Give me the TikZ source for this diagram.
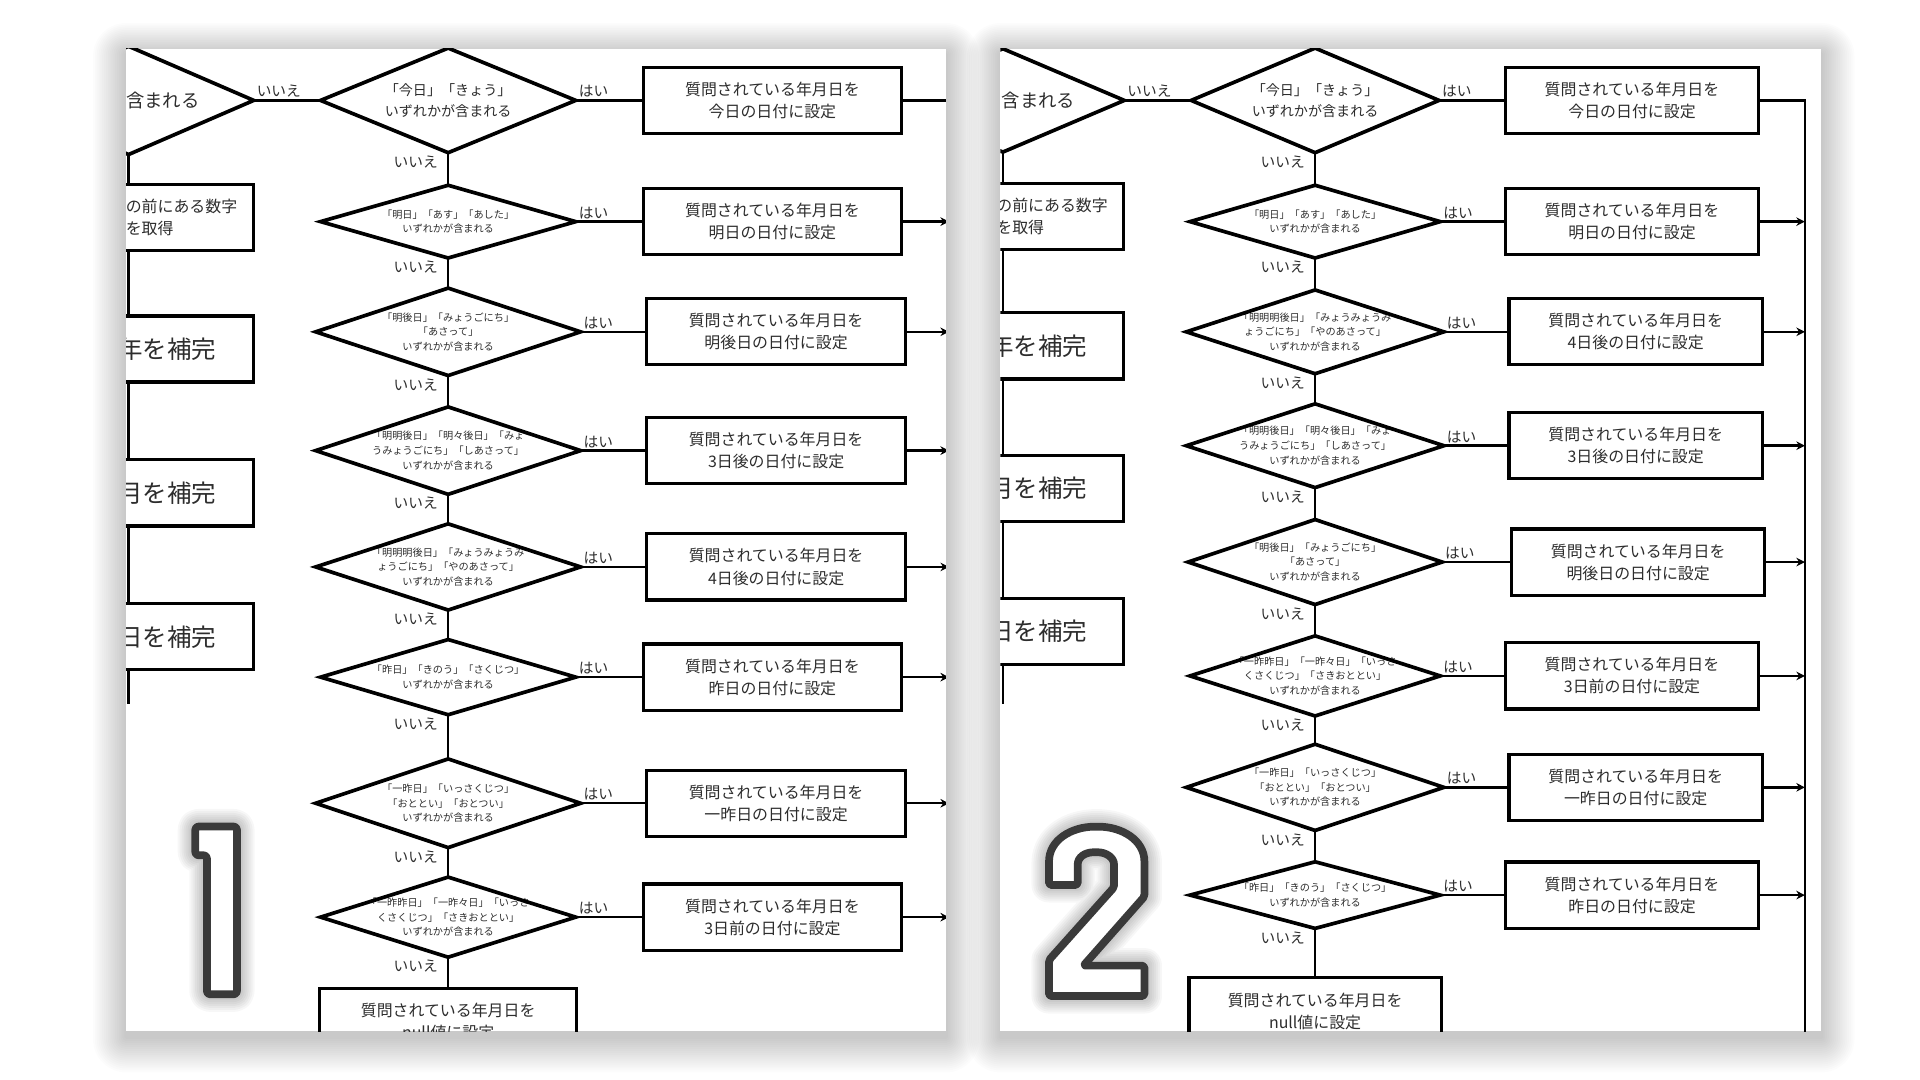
\documentclass[tikz,border=0pt]{standalone}
\usepackage{fontspec}
\setmainfont{Noto Sans CJK JP}
\usetikzlibrary{arrows.meta,positioning}
\definecolor{ink}{RGB}{45,45,45}
\definecolor{numgray}{RGB}{58,58,58}

\tikzset{
  cond/.style={inner sep=0pt, align=center, text=ink},
  dia/.style={line width=3pt, line join=miter},
  act/.style={draw, line width=2.6pt, minimum height=54pt, align=center, text=ink,
    font=\fontsize{13}{18}\selectfont},
  side/.style={draw, line width=2.6pt, minimum width=116pt, minimum height=54pt,
    text width=104pt, align=left, inner sep=0pt, anchor=east, text=ink,
    font=\fontsize{20}{24}\selectfont},
  flow/.style={line width=2pt},
  arr/.style={flow, -{Stealth[length=7pt, width=7pt]}},
  yeslbl/.style={above right, inner sep=1.5pt, text=ink, font=\fontsize{12}{14}\selectfont},
  nolbl/.style={below left, xshift=-6pt, inner sep=1.5pt, text=ink, font=\fontsize{12}{14}\selectfont},
  numeral/.style={draw=numgray, fill=white, line width=6.3pt, rounded corners=2.5pt, line join=round}
}

% outlines of the two big numerals
\def\numone{(159.5,675) -- (193.5,675) -- (193.5,812) -- (169,812) -- (169,698.5) -- (159.5,698.5) -- cycle}
\def\numtwo{(856.7,722.7) -- (856.7,705) .. controls (856.7,686) and (875,675.1) .. (895.6,675.1)
  .. controls (916,675.1) and (934.6,686) .. (934.6,705) -- (934.6,732.2) -- (884.8,788.6)
  -- (934.6,788.6) -- (934.6,813.4) -- (856.7,813.4) -- (856.7,784) -- (909.8,724.6) -- (909.8,707.7)
  .. controls (909.8,700) and (903,696) .. (894.8,696) .. controls (886,696) and (880.1,700) .. (880.1,707.7)
  -- (880.1,722.7) -- cycle}

\begin{document}
\begin{tikzpicture}[x=1pt, y=-1pt]
  \useasboundingbox (0,0) rectangle (1568,882);
  \fill[white] (0,0) rectangle (1568,882);

  % soft shadows of the two sheets
  \foreach \k in {1,...,18} {
    \fill[black, opacity=0.011, rounded corners=1.5*\k pt] ({103-1.5*\k},{44-1.4*\k}) rectangle ({772.5+1.5*\k},{847+1.6*\k});
    \fill[black, opacity=0.011, rounded corners=1.5*\k pt] ({817-1.5*\k},{44-1.4*\k}) rectangle ({1487.5+1.5*\k},{847+1.6*\k});
  }
  \fill[white] (103,40) rectangle (772.5,842);
  \fill[white] (817,40) rectangle (1487.5,842);

  % ---------- sheet 1 ----------
  \begin{scope}
    \clip (103,40) rectangle (772.5,842);
    \node[minimum width=204pt, minimum height=88pt, inner sep=0pt] (p1q) at (105,82) {};
    \draw[dia] (p1q.west) -- (p1q.north) -- (p1q.east) -- (p1q.south) -- cycle;
    \node[text=ink, font=\fontsize{15}{18}\selectfont] (p1qt) at (133,82) {含まれる};
    \node[side, text width=92pt, font=\fontsize{13}{18}\selectfont] (p1l1) at (208,177.5) {の前にある数字\\を取得};
    \node[side] (p1l2) at (208,285) {年を補完};
    \node[side] (p1l3) at (208,402.5) {月を補完};
    \node[side] (p1l4) at (208,520) {日を補完};
    \coordinate (p1lend) at (105,575);
    \draw[flow] (p1q.south) -- (p1q.south |- p1l1.north);
    \draw[flow] (p1q.south |- p1l1.south) -- (p1q.south |- p1l2.north);
    \draw[flow] (p1q.south |- p1l2.south) -- (p1q.south |- p1l3.north);
    \draw[flow] (p1q.south |- p1l3.south) -- (p1q.south |- p1l4.north);
    \draw[flow] (p1q.south |- p1l4.south) -- (p1lend);

    \foreach \i/\y/\w/\h/\fz/\lz/\bl/\cond/\res in {
      1/82/208/85/11.5/17/524/{「今日」「きょう」\\いずれかが含まれる}/{今日の日付に設定},
      2/181/208/59/8.3/12/524/{「明日」「あす」「あした」\\いずれかが含まれる}/{明日の日付に設定},
      3/271/216/71/8.3/12/527/{「明後日」「みょうごにち」\\「あさって」\\いずれかが含まれる}/{明後日の日付に設定},
      4/368/216/71/8.3/12/527/{「明明後日」「明々後日」「みょ\\うみょうごにち」「しあさって」\\いずれかが含まれる}/{3日後の日付に設定},
      5/463/216/70/8.3/12/527/{「明明明後日」「みょうみょうみ\\ょうごにち」「やのあさって」\\いずれかが含まれる}/{4日後の日付に設定},
      6/553/208/61/8.3/12/524/{「昨日」「きのう」「さくじつ」\\いずれかが含まれる}/{昨日の日付に設定},
      7/656/216/72/8.3/12/527/{「一昨日」「いっさくじつ」\\「おととい」「おとつい」\\いずれかが含まれる}/{一昨日の日付に設定},
      8/749/208/65/8.3/12/524/{「一昨昨日」「一昨々日」「いっさ\\くさくじつ」「さきおととい」\\いずれかが含まれる}/{3日前の日付に設定}} {
      \node[cond, minimum width=\w pt, minimum height=\h pt, font=\fontsize{\fz}{\lz}\selectfont] (p1d\i) at (366,\y) {\cond};
      \draw[dia] (p1d\i.west) -- (p1d\i.north) -- (p1d\i.east) -- (p1d\i.south) -- cycle;
      \node[act, minimum width=211pt, anchor=west] (p1b\i) at (\bl,\y) {質問されている年月日を\\\res};
      \draw[flow] (p1d\i.east) -- node[yeslbl, pos=0] (p1y\i) {はい} (p1b\i.west);
    }
    \node[act, minimum width=210pt, minimum height=55pt] (p1null) at (366,834.5) {質問されている年月日を\\null値に設定};
    \draw[flow] (p1q.east) -- node[yeslbl, pos=0] (p1n0) {いいえ} (p1d1.west);
    \foreach \i [count=\j from 2] in {1,...,7}
      \draw[flow] (p1d\i.south) -- node[nolbl, pos=0] (p1n\i) {いいえ} (p1d\j.north);
    \draw[flow] (p1d8.south) -- node[nolbl, pos=0] (p1n8) {いいえ} (p1null.north);
    \coordinate (p1bus) at (775,900);
    \draw[flow] (p1b1.east) -- (p1b1.east -| p1bus) -- (p1bus);
    \foreach \i in {2,...,8}
      \draw[arr] (p1b\i.east) -- (p1b\i.east -| p1bus);
  \end{scope}

  % ---------- sheet 2 ----------
  \begin{scope}
    \clip (817,40) rectangle (1487.5,842);
    \node[minimum width=198pt, minimum height=84pt, inner sep=0pt] (p2q) at (819,82) {};
    \draw[dia] (p2q.west) -- (p2q.north) -- (p2q.east) -- (p2q.south) -- cycle;
    \node[text=ink, font=\fontsize{15}{18}\selectfont] (p2qt) at (848,82) {含まれる};
    \node[side, text width=92pt, font=\fontsize{13}{18}\selectfont] (p2l1) at (919,177) {の前にある数字\\を取得};
    \node[side] (p2l2) at (919,282.5) {年を補完};
    \node[side] (p2l3) at (919,399) {月を補完};
    \node[side] (p2l4) at (919,515.5) {日を補完};
    \coordinate (p2lend) at (819,575);
    \draw[flow] (p2q.south) -- (p2q.south |- p2l1.north);
    \draw[flow] (p2q.south |- p2l1.south) -- (p2q.south |- p2l2.north);
    \draw[flow] (p2q.south |- p2l2.south) -- (p2q.south |- p2l3.north);
    \draw[flow] (p2q.south |- p2l3.south) -- (p2q.south |- p2l4.north);
    \draw[flow] (p2q.south |- p2l4.south) -- (p2lend);

    \foreach \i/\y/\w/\h/\fz/\lz/\bl/\cond/\res in {
      1/82/202/85/11.5/17/1228/{「今日」「きょう」\\いずれかが含まれる}/{今日の日付に設定},
      2/181/204/59/8.3/12/1228/{「明日」「あす」「あした」\\いずれかが含まれる}/{明日の日付に設定},
      3/271/210/68/8.3/12/1231/{「明明明後日」「みょうみょうみ\\ょうごにち」「やのあさって」\\いずれかが含まれる}/{4日後の日付に設定},
      4/364/210/68/8.3/12/1231/{「明明後日」「明々後日」「みょ\\うみょうごにち」「しあさって」\\いずれかが含まれる}/{3日後の日付に設定},
      5/459/207/69/8.3/12/1233/{「明後日」「みょうごにち」\\「あさって」\\いずれかが含まれる}/{明後日の日付に設定},
      6/552/204/65/8.3/12/1228/{「一昨昨日」「一昨々日」「いっさ\\くさくじつ」「さきおととい」\\いずれかが含まれる}/{3日前の日付に設定},
      7/643/210/70/8.3/12/1231/{「一昨日」「いっさくじつ」\\「おととい」「おとつい」\\いずれかが含まれる}/{一昨日の日付に設定},
      8/731/204/54/8.3/12/1228/{「昨日」「きのう」「さくじつ」\\いずれかが含まれる}/{昨日の日付に設定}} {
      \node[cond, minimum width=\w pt, minimum height=\h pt, font=\fontsize{\fz}{\lz}\selectfont] (p2d\i) at (1074,\y) {\cond};
      \draw[dia] (p2d\i.west) -- (p2d\i.north) -- (p2d\i.east) -- (p2d\i.south) -- cycle;
      \node[act, minimum width=207pt, anchor=west] (p2b\i) at (\bl,\y) {質問されている年月日を\\\res};
      \draw[flow] (p2d\i.east) -- node[yeslbl, pos=0] (p2y\i) {はい} (p2b\i.west);
    }
    \node[act, minimum width=206pt, minimum height=55pt] (p2null) at (1074,826) {質問されている年月日を\\null値に設定};
    \draw[flow] (p2q.east) -- node[yeslbl, pos=0] (p2n0) {いいえ} (p2d1.west);
    \foreach \i [count=\j from 2] in {1,...,7}
      \draw[flow] (p2d\i.south) -- node[nolbl, pos=0] (p2n\i) {いいえ} (p2d\j.north);
    \draw[flow] (p2d8.south) -- node[nolbl, pos=0] (p2n8) {いいえ} (p2null.north);
    \coordinate (p2bus) at (1474,900);
    \draw[flow] (p2b1.east) -- (p2b1.east -| p2bus) -- (p2bus);
    \foreach \i in {2,...,8}
      \draw[arr] (p2b\i.east) -- (p2b\i.east -| p2bus);
  \end{scope}

  % big numerals with a soft glow
  \foreach \k in {1,...,7} {
    \draw[black, opacity=0.03, line width=6.3pt+3.2pt*\k, rounded corners=2.5pt, line join=round] \numone;
    \draw[black, opacity=0.03, line width=6.3pt+3.2pt*\k, line join=round] \numtwo;
  }
  \draw[numeral] \numone;
  \draw[numeral, rounded corners=1.5pt] \numtwo;
\end{tikzpicture}
\end{document}
